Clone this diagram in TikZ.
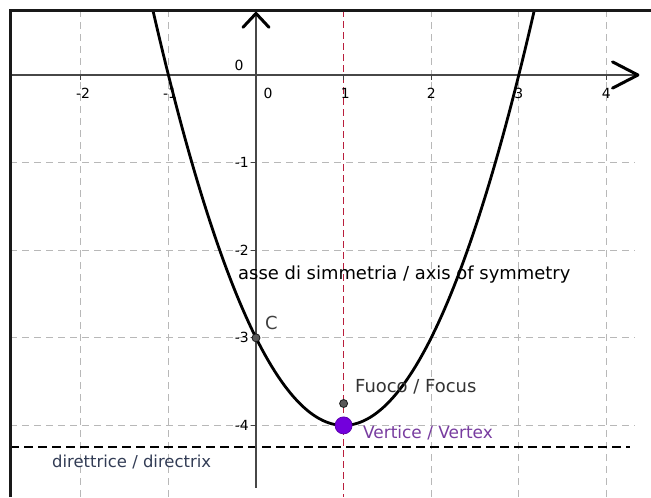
\documentclass[tikz,border=0pt]{standalone}
\usepackage{fontspec}
\setmainfont{DejaVu Sans}
\begin{document}
\begin{tikzpicture}[x=87.6bp,y=87.6bp,
  gridline/.style={draw=black!28, dash pattern=on 7bp off 5bp, line width=1bp},
  axisline/.style={draw=black!72, line width=2.2bp},
  chev/.style={draw=black, line width=3bp, line cap=round, line join=round},
  lbl/.style={font=\fontsize{18}{20}\selectfont, inner sep=0pt},
  ticklbl/.style={font=\fontsize{14}{16}\selectfont, inner sep=0pt, text=black},
  tickmark/.style={draw=black!75, line width=1bp},
  pt/.style={circle, fill=black!65, draw=black!90, line width=0.8bp, minimum size=8bp, inner sep=0pt},
]
\definecolor{symred}{RGB}{185,30,60}
\definecolor{vpurple}{RGB}{115,0,220}
\definecolor{vtext}{RGB}{120,60,160}
\definecolor{dtext}{RGB}{50,60,85}
\useasboundingbox (-2.9224,-4.8174) rectangle (4.5091,0.8562);
\fill[white] (-2.9224,-4.8174) rectangle (4.5091,0.8562);
% grid
\foreach \x in {-2,-1,2,3,4} \draw[gridline] (\x,0.742) -- (\x,-4.817);
\foreach \y in {-1,-2,-3,-4} \draw[gridline] (-2.808,\y) -- (4.33,\y);
% axis of symmetry
\draw[draw=symred, dash pattern=on 7bp off 4bp, line width=1.4bp] (1,0.742) -- (1,-4.817);
% directrix
\draw[black, dash pattern=on 9bp off 5bp, line width=1.8bp] (-2.808,-4.25) -- (4.27,-4.25);
% axes
\draw[axisline] (-2.808,0) -- (4.34,0);
\draw[axisline] (0,0.69) -- (0,-4.715);
\foreach \x in {-2,-1,1,2,3,4} \draw[tickmark] (\x,0) -- (\x,-0.06);
\foreach \y in {-1,-2,-3,-4} \draw[tickmark] (0,\y) -- (-0.06,\y);
% arrow chevrons
\draw[chev] (-0.148,0.545) -- (0,0.703) -- (0.148,0.545);
\draw[chev] (4.07,0.15) -- (4.36,0) -- (4.07,-0.15);
% parabola
\draw[black, line width=2.8bp] plot[domain=-1.177:3.177, samples=120] (\x, {(\x-1)^2-4});
% frame
\draw[black!90, line width=3bp] (-2.808,-4.8174) -- (-2.808,0.742) -- (4.5091,0.742);
% tick labels
\node[ticklbl] (xm2) at (-1.975,-0.205) {-2};
\node[ticklbl] (xm1) at (-0.98,-0.205) {-1};
\node[ticklbl] (x0) at (0.137,-0.205) {0};
\node[ticklbl] (x1) at (1.02,-0.205) {1};
\node[ticklbl] (x2) at (2.0,-0.205) {2};
\node[ticklbl] (x3) at (3.0,-0.205) {3};
\node[ticklbl] (x4) at (4.0,-0.205) {4};
\node[ticklbl] (o0) at (-0.194,0.114) {0};
\foreach \y in {-1,-2,-3,-4} \node[ticklbl, anchor=east] (y\y) at (-0.08,\y) {\y};
% points
\node[pt] (C) at (0,-3) {};
\node[pt] (F) at (1,-3.75) {};
\node[circle, fill=vpurple, draw=vpurple!80!black, line width=0.8bp, minimum size=17bp, inner sep=0pt] (V) at (1,-4) {};
% labels
\node[lbl, anchor=base west] (axlbl) at (-0.205,-2.340) {asse di simmetria / axis of symmetry};
\node[lbl, anchor=base west, text=black!75] (Clbl) at (0.103,-2.900) {C};
\node[lbl, anchor=base west, text=black!80] (Flbl) at (1.130,-3.630) {Fuoco / Focus};
\node[lbl, anchor=base west, text=vtext, font=\fontsize{17}{19}\selectfont] (Vlbl) at (1.221,-4.144) {Vertice / Vertex};
\node[lbl, anchor=base west, text=dtext, font=\fontsize{16.5}{18}\selectfont] (Dlbl) at (-2.329,-4.475) {direttrice / directrix};
\end{tikzpicture}
\end{document}
